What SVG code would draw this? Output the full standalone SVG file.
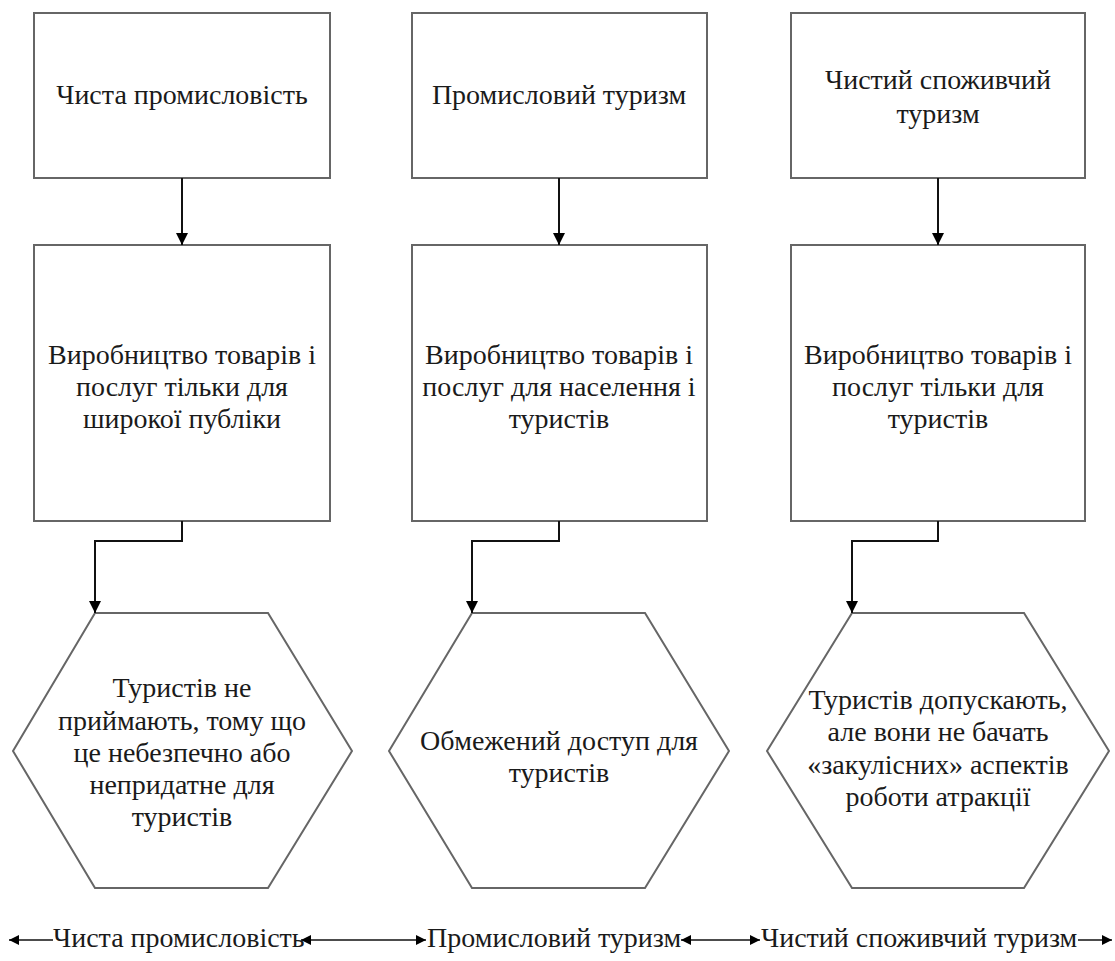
<svg xmlns="http://www.w3.org/2000/svg" width="1115" height="961" viewBox="0 0 1115 961">
<style>
.box{fill:#fff;stroke:#666;stroke-width:2}
.c{fill:none;stroke:#111;stroke-width:2}
.b{fill:none;stroke:#111;stroke-width:1.5}
</style>
<defs>
<marker id="ah" markerUnits="userSpaceOnUse" markerWidth="12" markerHeight="12" refX="12" refY="6" orient="auto"><path d="M0,0 L12,6 L0,12 Z" fill="#000"/></marker>
<marker id="sh" markerUnits="userSpaceOnUse" markerWidth="10" markerHeight="10" refX="10" refY="5" orient="auto"><path d="M0,0 L10,5 L0,10 Z" fill="#000"/></marker>
<marker id="shs" markerUnits="userSpaceOnUse" markerWidth="10" markerHeight="10" refX="0" refY="5" orient="auto"><path d="M10,0 L0,5 L10,10 Z" fill="#000"/></marker>
</defs>
<rect width="1115" height="961" fill="#fff"/>
<g id="top1"><rect class="box" x="34" y="13" width="296" height="165"/><text font-family="Liberation Serif" font-size="28" text-anchor="middle" fill="#1a1a1a" x="182" y="104">Чиста промисловість</text></g>
<g id="top2"><rect class="box" x="412" y="13" width="295" height="165"/><text font-family="Liberation Serif" font-size="28" text-anchor="middle" fill="#1a1a1a" x="559" y="104">Промисловий туризм</text></g>
<g id="top3"><rect class="box" x="791" y="13" width="294" height="165"/><text font-family="Liberation Serif" font-size="28" text-anchor="middle" fill="#1a1a1a" x="938" y="89">Чистий споживчий</text><text font-family="Liberation Serif" font-size="28" text-anchor="middle" fill="#1a1a1a" x="938" y="123">туризм</text></g>

<g id="mid1"><rect class="box" x="34" y="245" width="296" height="276"/><text font-family="Liberation Serif" font-size="28" text-anchor="middle" fill="#1a1a1a" x="182" y="364">Виробництво товарів і</text><text font-family="Liberation Serif" font-size="28" text-anchor="middle" fill="#1a1a1a" x="182" y="396">послуг тільки для</text><text font-family="Liberation Serif" font-size="28" text-anchor="middle" fill="#1a1a1a" x="182" y="428">широкої публіки</text></g>
<g id="mid2"><rect class="box" x="412" y="245" width="295" height="276"/><text font-family="Liberation Serif" font-size="28" text-anchor="middle" fill="#1a1a1a" x="559" y="364">Виробництво товарів і</text><text font-family="Liberation Serif" font-size="28" text-anchor="middle" fill="#1a1a1a" x="559" y="396">послуг для населення і</text><text font-family="Liberation Serif" font-size="28" text-anchor="middle" fill="#1a1a1a" x="559" y="428">туристів</text></g>
<g id="mid3"><rect class="box" x="791" y="245" width="294" height="276"/><text font-family="Liberation Serif" font-size="28" text-anchor="middle" fill="#1a1a1a" x="938" y="364">Виробництво товарів і</text><text font-family="Liberation Serif" font-size="28" text-anchor="middle" fill="#1a1a1a" x="938" y="396">послуг тільки для</text><text font-family="Liberation Serif" font-size="28" text-anchor="middle" fill="#1a1a1a" x="938" y="428">туристів</text></g>

<g id="hex1"><polygon class="box" points="95,613 268,613 352,751 268,888 95,888 13,751"/><text font-family="Liberation Serif" font-size="28" text-anchor="middle" fill="#1a1a1a" x="182" y="697">Туристів не</text><text font-family="Liberation Serif" font-size="28" text-anchor="middle" fill="#1a1a1a" x="182" y="730">приймають, тому що</text><text font-family="Liberation Serif" font-size="28" text-anchor="middle" fill="#1a1a1a" x="182" y="762">це небезпечно або</text><text font-family="Liberation Serif" font-size="28" text-anchor="middle" fill="#1a1a1a" x="182" y="794">непридатне для</text><text font-family="Liberation Serif" font-size="28" text-anchor="middle" fill="#1a1a1a" x="182" y="826">туристів</text></g>
<g id="hex2"><polygon class="box" points="472,613 645,613 729,751 645,888 472,888 389,751"/><text font-family="Liberation Serif" font-size="28" text-anchor="middle" fill="#1a1a1a" x="559" y="750">Обмежений доступ для</text><text font-family="Liberation Serif" font-size="28" text-anchor="middle" fill="#1a1a1a" x="559" y="782">туристів</text></g>
<g id="hex3"><polygon class="box" points="852,613 1024,613 1109,751 1024,888 852,888 767,751"/><text font-family="Liberation Serif" font-size="28" text-anchor="middle" fill="#1a1a1a" x="938" y="709">Туристів допускають,</text><text font-family="Liberation Serif" font-size="28" text-anchor="middle" fill="#1a1a1a" x="938" y="741">але вони не бачать</text><text font-family="Liberation Serif" font-size="28" text-anchor="middle" fill="#1a1a1a" x="938" y="774">«закулісних» аспектів</text><text font-family="Liberation Serif" font-size="28" text-anchor="middle" fill="#1a1a1a" x="938" y="806">роботи атракції</text></g>

<g id="connectors">
<line class="c" x1="182" y1="178" x2="182" y2="245" marker-end="url(#ah)"/>
<line class="c" x1="559" y1="178" x2="559" y2="245" marker-end="url(#ah)"/>
<line class="c" x1="938" y1="178" x2="938" y2="245" marker-end="url(#ah)"/>
<polyline class="c" points="182,521 182,541 95,541 95,613" marker-end="url(#ah)"/>
<polyline class="c" points="559,521 559,541 472,541 472,613" marker-end="url(#ah)"/>
<polyline class="c" points="938,521 938,541 852,541 852,613" marker-end="url(#ah)"/>
</g>

<g id="scale">
<line class="b" x1="9" y1="940" x2="53" y2="940" marker-start="url(#shs)"/>
<text font-family="Liberation Serif" font-size="28" fill="#1a1a1a" x="53" y="947">Чиста промисловість</text>
<line class="b" x1="301" y1="940" x2="426" y2="940" marker-start="url(#shs)" marker-end="url(#sh)"/>
<text font-family="Liberation Serif" font-size="28" fill="#1a1a1a" x="427" y="947">Промисловий туризм</text>
<line class="b" x1="681" y1="940" x2="760" y2="940" marker-start="url(#shs)" marker-end="url(#sh)"/>
<text font-family="Liberation Serif" font-size="28" fill="#1a1a1a" x="761" y="947">Чистий споживчий туризм</text>
<line class="b" x1="1078" y1="940" x2="1112" y2="940" marker-end="url(#sh)"/>
</g>
</svg>
